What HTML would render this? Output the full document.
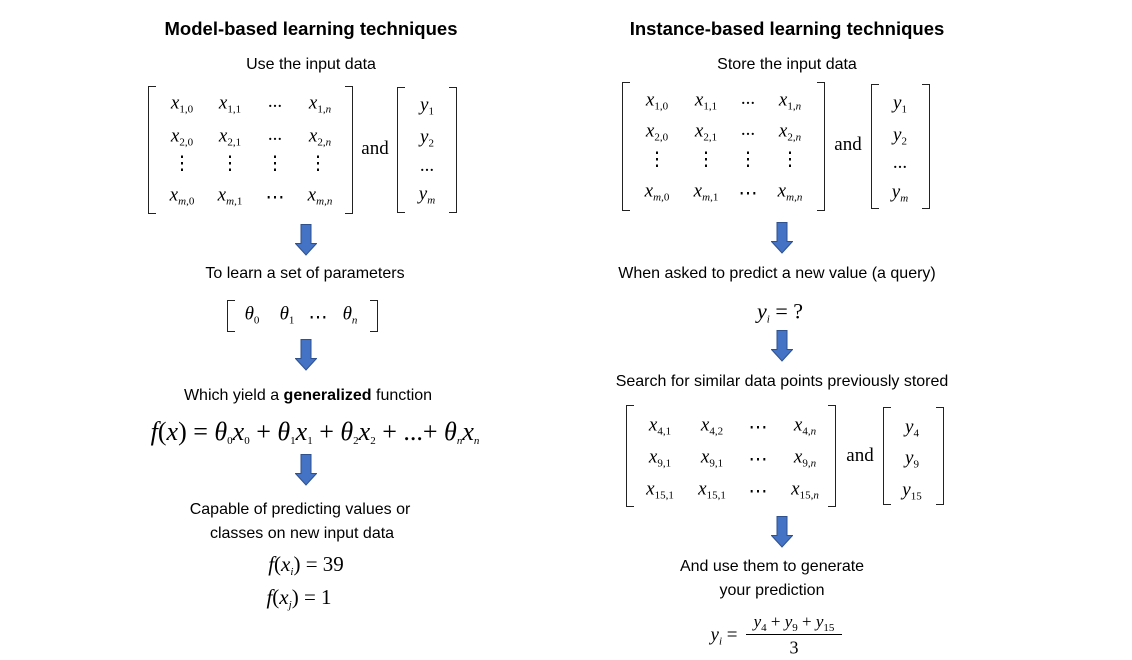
<!DOCTYPE html>
<html><head><meta charset="utf-8"><style>
body{margin:0;width:1132px;height:660px;background:#fff;position:relative;overflow:hidden;font-family:"Liberation Sans",sans-serif;color:#000}
.c{position:absolute;transform:translate(-50%,-50%);white-space:nowrap}
.t{font-size:16px}
.h{font-size:18.5px;font-weight:bold}
.m{font-family:"Liberation Serif",serif;font-style:italic;font-size:19px}
.m sub{font-size:11px;font-style:normal;vertical-align:-4px}
.m sub i{font-style:italic}
.n{font-family:"Liberation Serif",serif;font-size:19px}
.bl,.br{position:absolute;border:1.5px solid #222;width:7px}
.bl{border-right:none}.br{border-left:none}
.ar{position:absolute;width:22px;height:32px}
</style></head><body>
<svg width="0" height="0" style="position:absolute"><defs><g id="a"><path d="M6 0.5h10v19h5.5L11 31 0.5 19.5H6z" fill="#4472C4" stroke="#2F528F" stroke-width="1"/></g></defs></svg>

<!-- LEFT -->
<div class="c h" style="left:311px;top:29px">Model-based learning techniques</div>
<div class="c t" style="left:311px;top:65px">Use the input data</div>
<div class="bl" style="left:148px;top:86px;height:126px"></div>
<div class="br" style="left:345px;top:86px;height:126px"></div>
<div class="c m" style="left:182px;top:104px">x<sub>1,0</sub></div>
<div class="c m" style="left:230px;top:104px">x<sub>1,1</sub></div>
<div class="c n" style="left:275px;top:102px">...</div>
<div class="c m" style="left:320px;top:104px">x<sub>1,<i>n</i></sub></div>
<div class="c m" style="left:182px;top:137px">x<sub>2,0</sub></div>
<div class="c m" style="left:230px;top:137px">x<sub>2,1</sub></div>
<div class="c n" style="left:275px;top:135px">...</div>
<div class="c m" style="left:320px;top:137px">x<sub>2,<i>n</i></sub></div>
<div class="c n" style="left:182px;top:164px">⋮</div>
<div class="c n" style="left:230px;top:164px">⋮</div>
<div class="c n" style="left:275px;top:164px">⋮</div>
<div class="c n" style="left:318px;top:164px">⋮</div>
<div class="c m" style="left:182px;top:196px">x<sub><i>m</i>,0</sub></div>
<div class="c m" style="left:230px;top:196px">x<sub><i>m</i>,1</sub></div>
<div class="c n" style="left:275px;top:198px">⋯</div>
<div class="c m" style="left:320px;top:196px">x<sub><i>m</i>,<i>n</i></sub></div>
<div class="c n" style="left:375px;top:149px">and</div>
<div class="bl" style="left:397px;top:87px;height:124px"></div>
<div class="br" style="left:449px;top:87px;height:124px"></div>
<div class="c m" style="left:427px;top:106px">y<sub>1</sub></div>
<div class="c m" style="left:427px;top:138px">y<sub>2</sub></div>
<div class="c n" style="left:427px;top:166px">...</div>
<div class="c m" style="left:427px;top:195px">y<sub><i>m</i></sub></div>
<svg class="ar" style="left:295px;top:224px"><use href="#a"/></svg>
<div class="c t" style="left:305px;top:274px">To learn a set of parameters</div>
<div class="bl" style="left:227px;top:300px;height:30px"></div>
<div class="br" style="left:370px;top:300px;height:30px"></div>
<div class="c m" style="left:252px;top:315px">θ<sub>0</sub></div>
<div class="c m" style="left:287px;top:315px">θ<sub>1</sub></div>
<div class="c n" style="left:318px;top:318px">⋯</div>
<div class="c m" style="left:350px;top:315px">θ<sub><i>n</i></sub></div>
<svg class="ar" style="left:295px;top:339px"><use href="#a"/></svg>
<div class="c t" style="left:308px;top:396px">Which yield a <b>generalized</b> function</div>
<div class="c m" style="left:315px;top:432px;font-size:26px">f<span style="font-style:normal">(</span>x<span style="font-style:normal">) = </span>θ<sub>0</sub>x<sub>0</sub><span style="font-style:normal"> + </span>θ<sub>1</sub>x<sub>1</sub><span style="font-style:normal"> + </span>θ<sub>2</sub>x<sub>2</sub><span style="font-style:normal"> + ...+ </span>θ<sub><i>n</i></sub>x<sub><i>n</i></sub></div>
<svg class="ar" style="left:295px;top:454px"><use href="#a"/></svg>
<div class="c t" style="left:300px;top:510px">Capable of predicting values or</div>
<div class="c t" style="left:302px;top:534px">classes on new input data</div>
<div class="c m" style="left:306px;top:565px;font-size:21px">f<span style="font-style:normal">(</span>x<sub><i>i</i></sub><span style="font-style:normal">) = 39</span></div>
<div class="c m" style="left:299px;top:598px;font-size:21px">f<span style="font-style:normal">(</span>x<sub><i>j</i></sub><span style="font-style:normal">) = 1</span></div>

<!-- RIGHT -->
<div class="c h" style="left:787px;top:29px">Instance-based learning techniques</div>
<div class="c t" style="left:787px;top:65px">Store the input data</div>
<div class="bl" style="left:622px;top:82px;height:127px"></div>
<div class="br" style="left:817px;top:82px;height:127px"></div>
<div class="c m" style="left:657px;top:101px">x<sub>1,0</sub></div>
<div class="c m" style="left:706px;top:101px">x<sub>1,1</sub></div>
<div class="c n" style="left:748px;top:99px">...</div>
<div class="c m" style="left:790px;top:101px">x<sub>1,<i>n</i></sub></div>
<div class="c m" style="left:657px;top:132px">x<sub>2,0</sub></div>
<div class="c m" style="left:706px;top:132px">x<sub>2,1</sub></div>
<div class="c n" style="left:748px;top:130px">...</div>
<div class="c m" style="left:790px;top:132px">x<sub>2,<i>n</i></sub></div>
<div class="c n" style="left:657px;top:160px">⋮</div>
<div class="c n" style="left:706px;top:160px">⋮</div>
<div class="c n" style="left:748px;top:160px">⋮</div>
<div class="c n" style="left:790px;top:160px">⋮</div>
<div class="c m" style="left:657px;top:192px">x<sub><i>m</i>,0</sub></div>
<div class="c m" style="left:706px;top:192px">x<sub><i>m</i>,1</sub></div>
<div class="c n" style="left:748px;top:194px">⋯</div>
<div class="c m" style="left:790px;top:192px">x<sub><i>m</i>,<i>n</i></sub></div>
<div class="c n" style="left:848px;top:145px">and</div>
<div class="bl" style="left:871px;top:84px;height:123px"></div>
<div class="br" style="left:922px;top:84px;height:123px"></div>
<div class="c m" style="left:900px;top:104px">y<sub>1</sub></div>
<div class="c m" style="left:900px;top:136px">y<sub>2</sub></div>
<div class="c n" style="left:900px;top:163px">...</div>
<div class="c m" style="left:900px;top:193px">y<sub><i>m</i></sub></div>
<svg class="ar" style="left:771px;top:222px"><use href="#a"/></svg>
<div class="c t" style="left:777px;top:274px">When asked to predict a new value (a query)</div>
<div class="c m" style="left:780px;top:312px;font-size:22px">y<sub><i>i</i></sub><span style="font-style:normal"> = ?</span></div>
<svg class="ar" style="left:771px;top:330px"><use href="#a"/></svg>
<div class="c t" style="left:782px;top:382px">Search for similar data points previously stored</div>
<div class="bl" style="left:626px;top:405px;height:100px"></div>
<div class="br" style="left:828px;top:405px;height:100px"></div>
<div class="c m" style="left:660px;top:426px">x<sub>4,1</sub></div>
<div class="c m" style="left:712px;top:426px">x<sub>4,2</sub></div>
<div class="c n" style="left:758px;top:428px">⋯</div>
<div class="c m" style="left:805px;top:426px">x<sub>4,<i>n</i></sub></div>
<div class="c m" style="left:660px;top:458px">x<sub>9,1</sub></div>
<div class="c m" style="left:712px;top:458px">x<sub>9,1</sub></div>
<div class="c n" style="left:758px;top:460px">⋯</div>
<div class="c m" style="left:805px;top:458px">x<sub>9,<i>n</i></sub></div>
<div class="c m" style="left:660px;top:490px">x<sub>15,1</sub></div>
<div class="c m" style="left:712px;top:490px">x<sub>15,1</sub></div>
<div class="c n" style="left:758px;top:492px">⋯</div>
<div class="c m" style="left:805px;top:490px">x<sub>15,<i>n</i></sub></div>
<div class="c n" style="left:860px;top:456px">and</div>
<div class="bl" style="left:883px;top:407px;height:96px"></div>
<div class="br" style="left:936px;top:407px;height:96px"></div>
<div class="c m" style="left:912px;top:428px">y<sub>4</sub></div>
<div class="c m" style="left:912px;top:459px">y<sub>9</sub></div>
<div class="c m" style="left:912px;top:491px">y<sub>15</sub></div>
<svg class="ar" style="left:771px;top:516px"><use href="#a"/></svg>
<div class="c t" style="left:772px;top:567px">And use them to generate</div>
<div class="c t" style="left:772px;top:591px">your prediction</div>
<div class="c m" style="left:724px;top:636px">y<sub><i>i</i></sub><span style="font-style:normal"> =</span></div>
<div class="c m" style="left:794px;top:623px;font-size:17px">y<sub>4</sub><span style="font-style:normal"> + </span>y<sub>9</sub><span style="font-style:normal"> + </span>y<sub>15</sub></div>
<div style="position:absolute;left:746px;top:634px;width:96px;height:1px;background:#000"></div>
<div class="c n" style="left:794px;top:648px;font-size:18px">3</div>
</body></html>
